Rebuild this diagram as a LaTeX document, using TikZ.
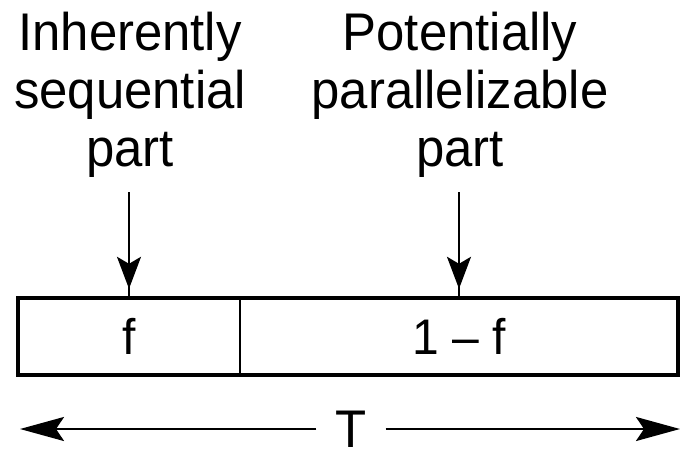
\documentclass[tikz,border=0pt]{standalone}
\usepackage{fontspec}
\setmainfont{Liberation Sans}[FakeStretch=0.96]
\usetikzlibrary{arrows.meta}
\begin{document}
\begin{tikzpicture}[x=1pt,y=-1pt,
  label/.style={inner sep=0pt, align=center, font=\fontsize{53}{58}\selectfont},
  cell/.style={inner sep=0pt, minimum height=77pt, font=\fontsize{50}{58}\selectfont},
  stem/.style={line width=2pt},
  arr/.style={line width=2pt, shorten >=9pt, -{Stealth[length=32pt,width=24pt,inset=7pt]}},
  span/.style={line width=2.5pt, -{Stealth[length=44pt,width=24pt,inset=8pt]}}]
  \useasboundingbox (0,0) rectangle (682,452);

  % the two labelled parts of the bar
  \node[cell, minimum width=222pt] (seq) at (129,336.5) {f};
  \node[cell, minimum width=438pt] (par) at (459,336.5) {1 -- f};
  \draw[line width=4pt] (seq.north west) rectangle (par.south east);
  \draw[line width=2.5pt] (seq.north east) -- (seq.south east);

  % captions with arrows pointing at each part
  \node[label, anchor=north] (lab1) at (130,12) {Inherently\\sequential\\part};
  \node[label, anchor=north] (lab2) at (460,12) {Potentially\\parallelizable\\part};
  \coordinate (a1) at (129,192);
  \coordinate (a2) at (459,192);
  \draw[stem] (a1) -- (seq.north);
  \draw[arr] (a1) -- (seq.north);
  \draw[stem] (a2) -- (par.north);
  \draw[arr] (a2) -- (par.north);

  % total time span
  \node[label, inner xsep=19pt] (T) at (351,429) {T};
  \coordinate (tl) at (20,429);
  \coordinate (tr) at (680,429);
  \draw[span] (T.west) -- (tl);
  \draw[span] (T.east) -- (tr);
\end{tikzpicture}
\end{document}
